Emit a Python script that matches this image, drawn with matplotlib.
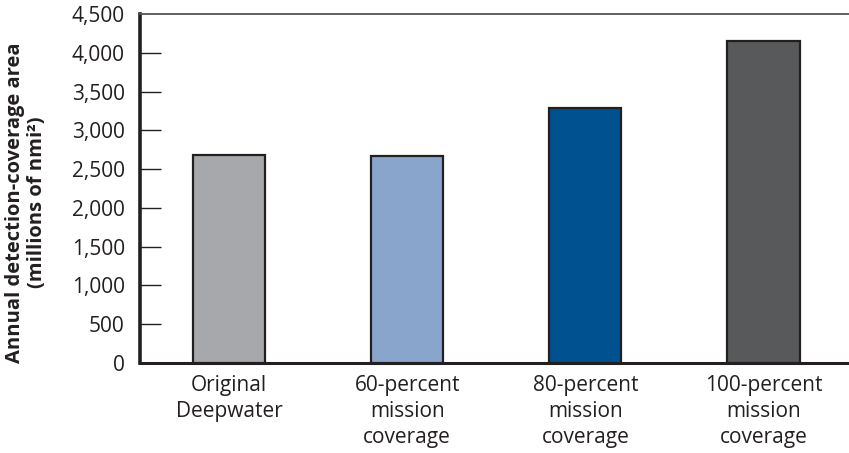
import matplotlib
matplotlib.use("Agg")
import matplotlib.pyplot as plt

categories = ["Original\nDeepwater", "60-percent\nmission\ncoverage",
              "80-percent\nmission\ncoverage", "100-percent\nmission\ncoverage"]
values = [2682, 2665, 3288, 4156]
colors = ["#a7a8ab", "#8aa5cc", "#00518f", "#58595b"]
yticks = [0, 500, 1000, 1500, 2000, 2500, 3000, 3500, 4000, 4500]
ytick_labels = ["0", "500", "1,000", "1,500", "2,000", "2,500", "3,000", "3,500", "4,000", "4,500"]

plt.rcParams["font.family"] = ["Open Sans", "DejaVu Sans"]
ink = "#231f20"

fig = plt.figure(figsize=(8.49, 4.53), dpi=100)
ax = fig.add_axes([140 / 849, 1 - 363 / 453, 1 - 140 / 849, 349 / 453])

x = list(range(len(categories)))
ax.bar(x, values, width=0.405, color=colors, edgecolor=ink, linewidth=1.6, zorder=3)

ax.set_xlim(-0.5, 3.48)
ax.set_ylim(0, 4500)
ax.set_yticks(yticks)
ax.set_yticklabels(ytick_labels)
ax.set_xticks(x)
ax.set_xticklabels(categories, linespacing=1.3)

ax.tick_params(axis="y", direction="in", length=15, width=1.0, color=ink,
               labelsize=15, labelcolor=ink, pad=11)
ax.tick_params(axis="x", length=0, labelsize=15, labelcolor=ink, pad=9)
# hide the inward ticks at 0 and at the top
for t in (ax.yaxis.get_major_ticks()[0], ax.yaxis.get_major_ticks()[-1]):
    t.tick1line.set_visible(False)

ax.spines["left"].set_linewidth(2.6)
ax.spines["left"].set_color(ink)
ax.spines["bottom"].set_linewidth(2.2)
ax.spines["bottom"].set_color(ink)
ax.spines["top"].set_linewidth(1.3)
ax.spines["top"].set_color("#555555")
ax.spines["right"].set_visible(False)

ylab = ax.set_ylabel("Annual detection-coverage area\n(millions of nmi²)", fontsize=14.5,
                     fontweight="bold", color=ink, linespacing=1.1)
ylab.set_verticalalignment("center")
ax.yaxis.set_label_coords(-0.161, 0.46)

fig.savefig("out.png", dpi=100)
